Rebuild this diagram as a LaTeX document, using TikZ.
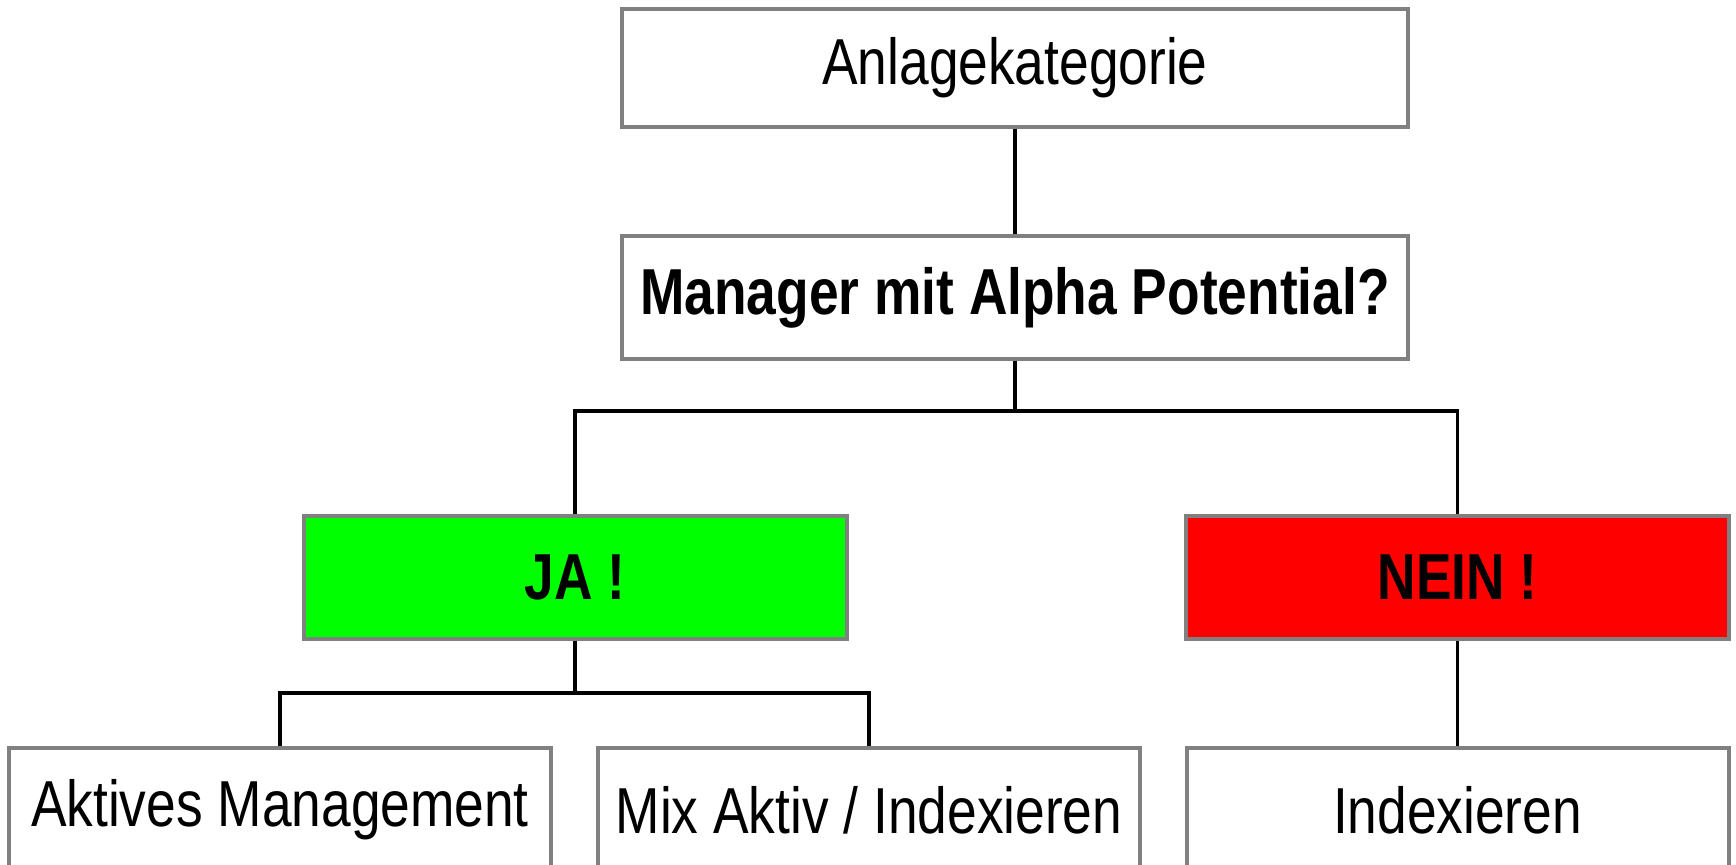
\documentclass[tikz,border=0pt]{standalone}
\usepackage{fontspec}
\setmainfont[FakeStretch=0.82]{Liberation Sans}
\usetikzlibrary{positioning}
\tikzset{box/.style=
   {rectangle,
    draw=gray,
    line width=2pt,
    fill=white,
    text centered,
    minimum height=61.5pt,
    font=\fontsize{32.5}{39}\selectfont}}
\tikzset{widebox/.style =
   {box,
    minimum width=393pt}}
\tikzset{choice/.style =
   {box,
    minimum width=271.5pt,
    font=\fontsize{32.5}{39}\selectfont\bfseries}}
\tikzset{leaf/.style =
   {box,
    minimum width=271pt}}
\tikzset{link/.style = {draw, line width=1.6pt}}

\begin{document}
\begin{tikzpicture}[x=0.5pt, y=-0.5pt]

    \useasboundingbox (0,0) rectangle (1736,865);

    \node [widebox,
           minimum height=59pt] (kat) at (1015,68) {Anlagekategorie};

    \node [widebox,
           below = 52.5pt of kat,
           font=\fontsize{32.5}{39}\selectfont\bfseries] (frage)
          {Manager mit Alpha Potential?};

    \node [choice,
           fill={rgb,255:red,0;green,255;blue,0}] (ja) at (575,577.5) {JA !};

    \node [choice,
           fill={rgb,255:red,255;green,0;blue,0}] (nein) at (1457.5,577.5) {NEIN !};

    \node [leaf] (aktiv) at (280,810) {Aktives Management};
    \node [leaf] (mix) at (869,810) {Mix Aktiv / Indexieren};
    \node [leaf] (index) at (1457.5,810) {Indexieren};

    % verbindungen
    \coordinate (gabel) at (1015,411);
    \coordinate (gabelja) at (575,693);

    \draw [link] (kat) -- (frage);
    \draw [link] (frage.south) -- (gabel) -| (ja.north);
    \draw [link] (gabel) -| (nein.north);
    \draw [link] (ja.south) -- (gabelja) -| (aktiv.north);
    \draw [link] (gabelja) -| (mix.north);
    \draw [link] (nein) -- (index);

\end{tikzpicture}
\end{document}
